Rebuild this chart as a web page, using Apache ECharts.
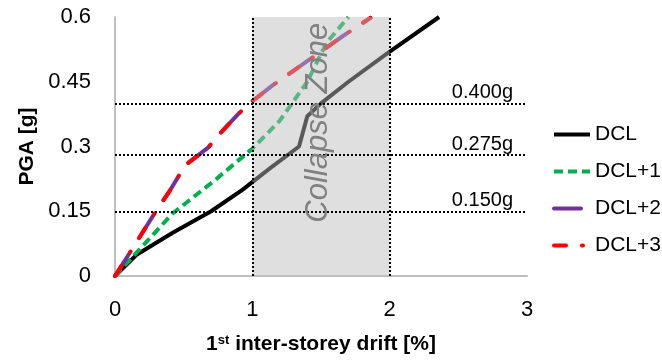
<!DOCTYPE html>
<html>
<head>
<meta charset="utf-8">
<script src="https://cdn.jsdelivr.net/npm/echarts@6/dist/echarts.min.js"></script>
<style>
html,body{margin:0;padding:0;background:#fff;}
#main{width:662px;height:360px;}
</style>
</head>
<body>
<div id="main"></div>
<script>
// ---- data ----
const xTicks = [0, 1, 2, 3];
const yTicks = [0, 0.15, 0.3, 0.45, 0.6];
const seriesNames = ['DCL', 'DCL+1', 'DCL+2', 'DCL+3'];

const driftDCL = [0, 0.16, 0.42, 0.7, 0.93, 1.13, 1.34, 1.4, 1.5, 1.7, 1.98, 2.36];
const pgaDCL   = [0, 0.05, 0.1, 0.15, 0.2, 0.25, 0.3, 0.37, 0.4, 0.45, 0.515, 0.6];

const driftDCL1 = [0, 0.13, 0.42, 0.72, 1.0, 1.2, 1.4, 1.54, 1.7];
const pgaDCL1   = [0, 0.045, 0.145, 0.22, 0.295, 0.36, 0.45, 0.54, 0.6];

const driftDCL2 = [0, 0.11, 0.28, 0.4, 0.51, 0.68, 0.75, 0.9, 0.98, 1.14, 1.41, 1.66, 1.86];
const pgaDCL2   = [0, 0.055, 0.141, 0.198, 0.256, 0.298, 0.325, 0.376, 0.40, 0.44, 0.50, 0.556, 0.598];

const driftDCL3 = [0, 0.11, 0.28, 0.4, 0.51, 0.68, 0.75, 0.9, 0.98, 1.14, 1.41, 1.66, 1.86];
const pgaDCL3   = [0, 0.055, 0.141, 0.198, 0.256, 0.298, 0.325, 0.376, 0.40, 0.44, 0.50, 0.556, 0.598];

const zoneRange = [1, 2];
const zoneLabel = 'Collapse Zone';
const zoneLabelAt = [1.48, 0.355];
const pgaLevels = [0.4, 0.275, 0.15];
const pgaLevelLabels = ['0.400g', '0.275g', '0.150g'];

function pairs(xs, ys) { return xs.map((x, i) => [x, ys[i]]); }

const chart = echarts.init(document.getElementById('main'));
const FONT = "'Liberation Sans', Arial, sans-serif";
const dotted = { color: '#000', width: 2, type: [2, 2] };

const option = {
  animation: false,
  textStyle: { fontFamily: FONT },
  grid: { left: 115, right: 135, top: 17, bottom: 84 },
  xAxis: {
    type: 'value', min: 0, max: 3, interval: 1,
    axisLine: { lineStyle: { color: '#bfbfbf', width: 2 } },
    axisTick: { show: false },
    splitLine: { show: false },
    axisLabel: { color: '#000', fontSize: 22, margin: 23, fontFamily: FONT,
      formatter: v => xTicks.includes(v) ? String(v) : '' },
    name: '{b|1}{s|st}{b| inter-storey drift [%]}',
    nameLocation: 'middle', nameGap: 58,
    nameTextStyle: {
      fontFamily: FONT, fontWeight: 'bold', fontSize: 21, color: '#000',
      rich: {
        b: { fontFamily: FONT, fontWeight: 'bold', fontSize: 21, color: '#000' },
        s: { fontFamily: FONT, fontWeight: 'bold', fontSize: 13, color: '#000', verticalAlign: 'top', padding: [0, 0, 8, 0] }
      }
    }
  },
  yAxis: {
    type: 'value', min: 0, max: 0.6, interval: 0.15,
    axisLine: { show: true, lineStyle: { color: '#bfbfbf', width: 2 } },
    axisTick: { show: false },
    splitLine: { show: false },
    axisLabel: { color: '#000', fontSize: 22, margin: 24, fontFamily: FONT,
      formatter: v => { const t = yTicks.find(k => Math.abs(k - v) < 1e-9); return t === undefined ? '' : String(t); } },
    name: 'PGA [g]', nameLocation: 'middle', nameGap: 76, nameRotate: 90,
    nameTextStyle: { fontFamily: FONT, fontWeight: 'bold', fontSize: 21, color: '#000' }
  },
  legend: {
    data: seriesNames,
    orient: 'vertical', left: 552, top: 124, padding: 0,
    itemWidth: 36, itemHeight: 14, itemGap: 16,
    itemStyle: { color: 'rgba(0,0,0,0)', borderColor: 'rgba(0,0,0,0)', borderWidth: 0 },
    lineStyle: { width: 4 },
    textStyle: { fontFamily: FONT, fontSize: 21, color: '#000' }
  },
  series: [
    { name: 'DCL', type: 'line', data: pairs(driftDCL, pgaDCL), showSymbol: false, symbol: 'none', z: 2,
      lineStyle: { color: '#000', width: 4 }, itemStyle: { color: '#000' } },
    { name: 'DCL+1', type: 'line', data: pairs(driftDCL1, pgaDCL1), showSymbol: false, symbol: 'none', z: 2,
      lineStyle: { color: '#00b050', width: 4, type: [9, 5] }, itemStyle: { color: '#00b050' } },
    { name: 'DCL+2', type: 'line', data: pairs(driftDCL2, pgaDCL2), showSymbol: false, symbol: 'none', z: 2,
      lineStyle: { color: '#7030a0', width: 4, type: [27, 18], cap: 'round' }, itemStyle: { color: '#7030a0' } },
    { name: 'DCL+3', type: 'line', data: pairs(driftDCL3, pgaDCL3), showSymbol: false, symbol: 'none', z: 2,
      lineStyle: { color: '#ff0000', width: 4, type: [12, 16, 1, 16], cap: 'round' }, itemStyle: { color: '#ff0000' } },
    { name: 'zone', type: 'line', data: [], z: 5, silent: true,
      markArea: {
        silent: true, z: 10,
        itemStyle: { color: 'rgba(187,187,187,0.475)' },
        data: [[{ xAxis: zoneRange[0] }, { xAxis: zoneRange[1] }]]
      },
      markLine: {
        silent: true, symbol: 'none', z: 11,
        lineStyle: dotted,
        label: { show: false },
        data: [
          { xAxis: zoneRange[0] }, { xAxis: zoneRange[1] },
          ...pgaLevels.map((v, i) => ({
            yAxis: v,
            label: { show: true, formatter: pgaLevelLabels[i], position: 'insideEndTop', distance: [14, 1],
              color: '#000', fontSize: 20, fontFamily: FONT }
          }))
        ]
      },
      markPoint: {
        silent: true, symbol: 'circle', symbolSize: 1, z: 12,
        itemStyle: { color: 'rgba(0,0,0,0)' },
        label: { show: true, position: 'inside', rotate: 90, formatter: zoneLabel,
          color: '#808080', fontSize: 31, fontStyle: 'italic', fontFamily: FONT },
        data: [{ coord: zoneLabelAt }]
      }
    }
  ]
};
chart.setOption(option);
</script>
</body>
</html>
